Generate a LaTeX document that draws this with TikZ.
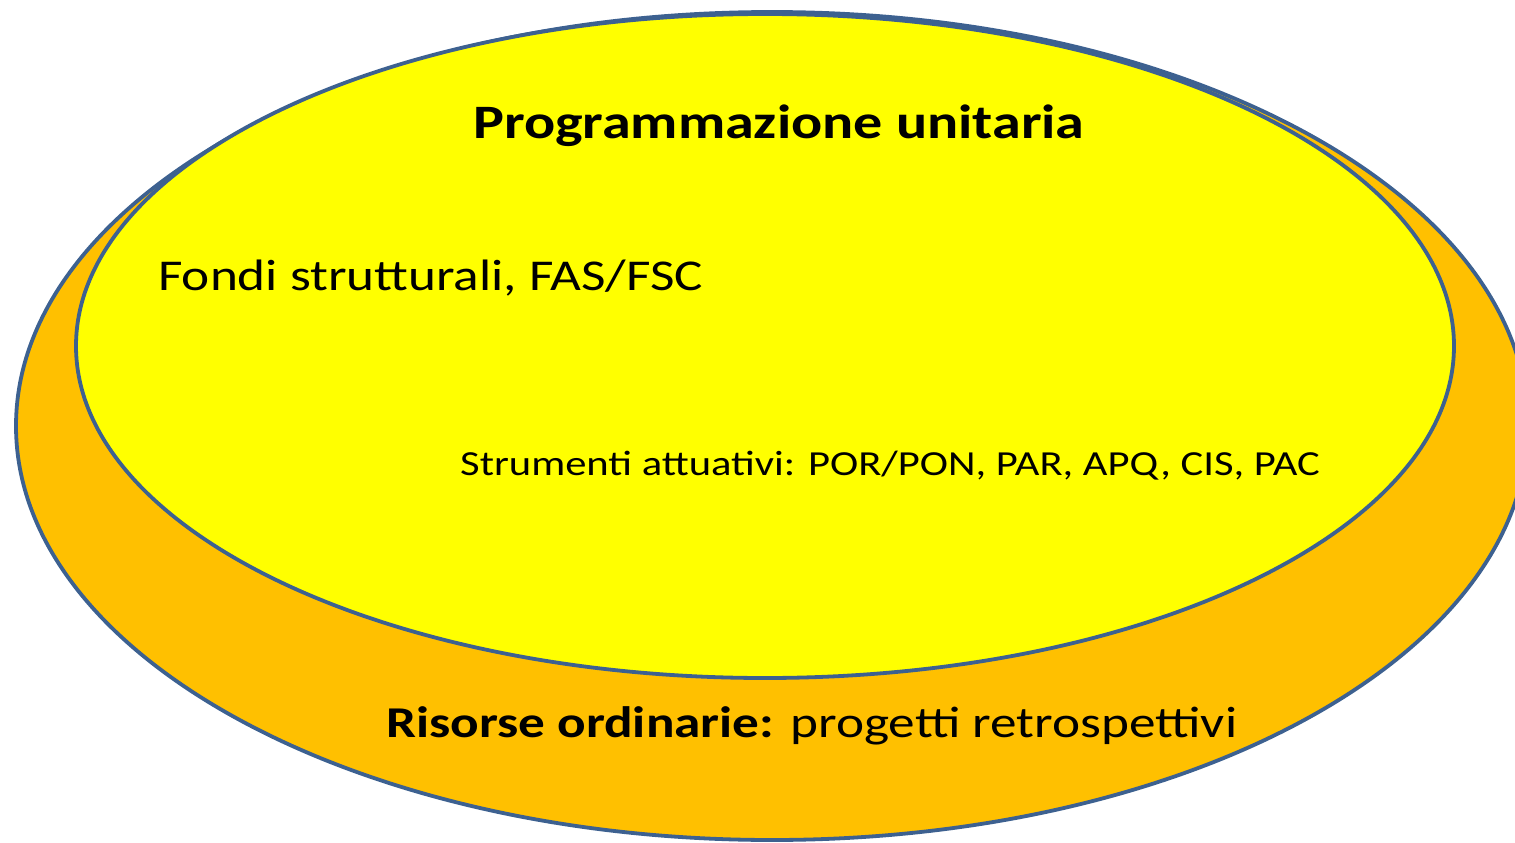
\documentclass[tikz,border=0pt]{standalone}
\usepackage{fontspec}
\setmainfont{Carlito}[FakeStretch=1.21]
\definecolor{rim}{HTML}{3D6190}
\definecolor{orangefill}{HTML}{FFC000}
\definecolor{yellowfill}{HTML}{FFFF00}
\begin{document}
\begin{tikzpicture}[x=1pt,y=-1pt,
  disc/.style={draw=rim,line width=3.8pt},
  lbl/.style={inner sep=0pt,anchor=base west,text=black}]
\useasboundingbox (0,0) rectangle (1515,843);
\clip (0,0) rectangle (1515,843);
\draw[disc,fill=orangefill] (772,426) ellipse [x radius=756,y radius=414];
\draw[disc,fill=yellowfill] (765,346) ellipse [x radius=689,y radius=332];
\node[lbl,font=\fontsize{48}{56}\selectfont\bfseries] (title) at (473,138) {Programmazione unitaria};
\node[lbl,font=\fontsize{44}{52}\selectfont] (fondi) at (158,290) {Fondi strutturali, FAS/FSC};
\node[lbl,font=\fontsize{35.2}{42}\selectfont] (strum) at (460,475) {Strumenti attuativi: POR/PON, PAR, APQ, CIS, PAC};
\node[lbl,font=\fontsize{44}{52}\selectfont] (risorse) at (386,737) {\textbf{Risorse ordinarie:} progetti retrospettivi};
\end{tikzpicture}
\end{document}
